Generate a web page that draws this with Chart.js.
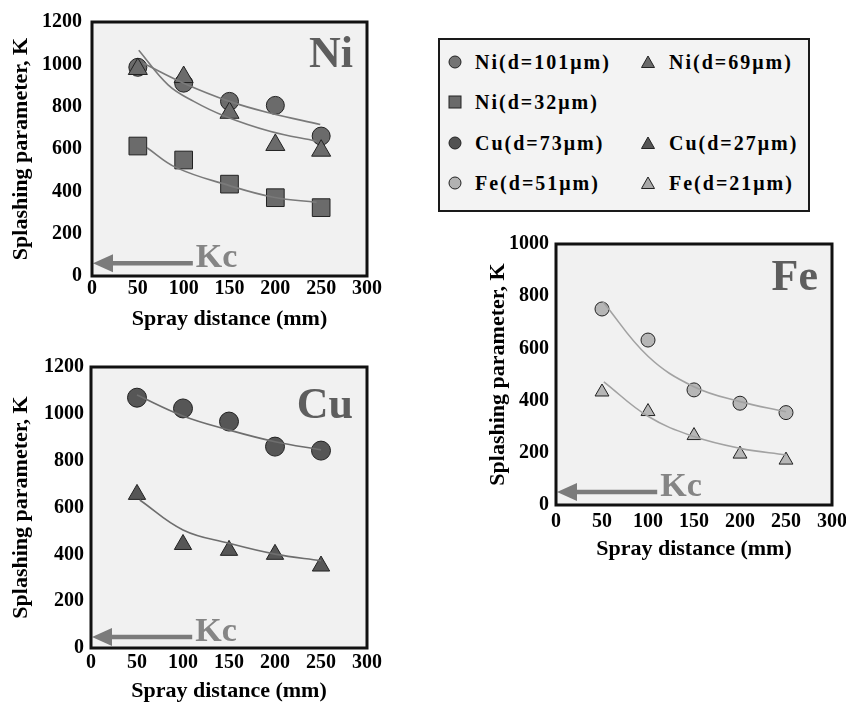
<!DOCTYPE html>
<html>
<head>
<meta charset="utf-8">
<script src="https://cdn.jsdelivr.net/npm/chart.js@4/dist/chart.umd.min.js"></script>
<style>
html,body{margin:0;padding:0;background:#fff;overflow:hidden;width:846px;height:702px;}
canvas{position:absolute;}
#legend{position:absolute;left:438px;top:38px;width:372px;height:174px;box-sizing:border-box;border:2px solid #1a1a1a;background:#f3f3f3;font-family:'Liberation Serif',serif;font-weight:bold;font-size:20px;letter-spacing:2px;color:#000;}
.item{position:absolute;height:24px;line-height:24px;white-space:nowrap;}
.item svg{position:absolute;top:5px;}
.item span{position:absolute;top:0;}
</style>
</head>
<body>
<canvas id="ni" width="392" height="336" style="left:0;top:0"></canvas>
<canvas id="cu" width="392" height="360" style="left:0;top:345px"></canvas>
<canvas id="fe" width="380" height="345" style="left:478px;top:222px"></canvas>
<div id="legend"></div>
<script>
// ---- data ----
const distances = [50, 100, 150, 200, 250];           // spray distance (mm)
const niD101 = [986, 911, 825, 806, 661];
const niD69  = [978, 940, 771, 619, 592];
const niD32  = [614, 548, 434, 370, 323];
const cuD73  = [1069, 1023, 967, 860, 843];
const cuD27  = [656, 442, 417, 400, 350];
const feD51  = [751, 632, 441, 390, 354];
const feD21  = [433, 358, 266, 195, 172];

// trend curves as drawn in the figure
const niFit101X = [56, 100, 150, 194, 249];
const niFit101Y = [1005, 911, 825, 770, 716];
const niFit69X  = [51, 83, 111, 145, 194, 245];
const niFit69Y  = [1067, 903, 825, 755, 684, 637];
const niFit32X  = [60, 92, 150, 198, 245];
const niFit32Y  = [606, 512, 427, 372, 348];
const cuFit73X  = [50, 100, 150, 200, 250];
const cuFit73Y  = [1080, 991, 931, 881, 846];
const cuFit27X  = [53, 100, 150, 200, 250];
const cuFit27Y  = [632, 504, 447, 401, 373];
const feFit51X  = [51, 100, 150, 200, 250];
const feFit51Y  = [779, 570, 453, 396, 357];
const feFit21X  = [52, 100, 150, 200, 250];
const feFit21Y  = [472, 340, 262, 217, 192];

// critical splashing parameter marker (Kc arrow)
const kcLevel = [60, 47, 50];     // Ni, Cu, Fe
const kcArrowFrom = 110;

const legendLabels = ['Ni(d=101\u03bcm)', 'Ni(d=69\u03bcm)', 'Ni(d=32\u03bcm)', 'Cu(d=73\u03bcm)', 'Cu(d=27\u03bcm)', 'Fe(d=51\u03bcm)', 'Fe(d=21\u03bcm)'];
const legendShapes = ['circle', 'triangle', 'rect', 'circle', 'triangle', 'circle', 'triangle'];
const legendColors = ['#747474', '#6a6a6a', '#6a6a6a', '#525252', '#555555', '#b2b2b2', '#a8a8a8'];

// ---- helpers ----
const zip = (xs, ys) => xs.map((x, i) => ({x: x, y: ys[i]}));
const SERIF = "'Liberation Serif', 'Times New Roman', serif";

const panelDecor = {
  id: 'panelDecor',
  beforeDatasetsDraw(chart, args, o) {
    const {ctx, chartArea: a} = chart;
    ctx.save();
    ctx.fillStyle = '#f1f1f1';
    ctx.fillRect(a.left, a.top, a.width, a.height);
    const xs = chart.scales.x, ys = chart.scales.y;
    const y = ys.getPixelForValue(o.kc);
    const x1 = xs.getPixelForValue(kcArrowFrom);
    const x0 = xs.getPixelForValue(0) + 1;
    ctx.strokeStyle = '#7b7b7b';
    ctx.lineWidth = 4.5;
    ctx.beginPath(); ctx.moveTo(x1, y); ctx.lineTo(x0 + 16, y); ctx.stroke();
    ctx.fillStyle = '#7b7b7b';
    ctx.beginPath(); ctx.moveTo(x0, y); ctx.lineTo(x0 + 20, y - 9); ctx.lineTo(x0 + 20, y + 9); ctx.closePath(); ctx.fill();
    ctx.font = 'bold 34px ' + SERIF;
    ctx.fillStyle = '#858585';
    ctx.textAlign = 'left'; ctx.textBaseline = 'alphabetic';
    ctx.fillText('Kc', x1 + 3, y + 4);
    ctx.font = 'bold 44px ' + SERIF;
    ctx.fillStyle = '#5e5e5e';
    ctx.textAlign = 'right';
    ctx.fillText(o.name, a.right - 14, a.top + o.nameDy);
    ctx.restore();
  },
  afterDraw(chart) {
    const {ctx, chartArea: a} = chart;
    ctx.save();
    ctx.strokeStyle = '#111';
    ctx.lineWidth = 3;
    ctx.strokeRect(a.left, a.top, a.width, a.height);
    ctx.restore();
  }
};

function fitSet(xs, ys, color) {
  return {data: zip(xs, ys), showLine: true, pointRadius: 0, borderColor: color, borderWidth: 1.6,
          tension: 0.4, order: 0};
}
function markSet(ys, shape, r, color, order) {
  return {data: zip(distances, ys), pointStyle: shape, pointRadius: r, backgroundColor: color,
          borderColor: '#222', borderWidth: 1, showLine: false, order: order};
}

function makePanel(id, p) {
  const tickFont = {family: SERIF, size: 20, weight: 'bold'};
  const titleFont = {family: SERIF, size: 22, weight: 'bold'};
  return new Chart(document.getElementById(id), {
    type: 'scatter',
    data: {datasets: p.datasets},
    plugins: [panelDecor],
    options: {
      responsive: false, animation: false, devicePixelRatio: 1,
      layout: {padding: {top: p.padTop, right: p.padRight, bottom: 0, left: 0}},
      plugins: {legend: {display: false}, tooltip: {enabled: false},
                panelDecor: {kc: p.kc, name: p.name, nameDy: p.nameDy}},
      scales: {
        x: {type: 'linear', min: 0, max: 300,
            ticks: {stepSize: 50, font: tickFont, color: '#000', padding: p.xPad, maxRotation: 0, autoSkip: false,
                    callback: v => String(v)},
            grid: {display: false, drawTicks: false}, border: {display: false},
            title: {display: true, text: 'Spray distance (mm)', font: titleFont, color: '#000', padding: {top: 0, bottom: p.xTitlePad}},
            afterFit(s) { s.height = p.xHeight; }},
        y: {type: 'linear', min: 0, max: p.yMax,
            ticks: {stepSize: 200, font: tickFont, color: '#000', padding: p.yPad, callback: v => String(v)},
            grid: {display: false, drawTicks: false}, border: {display: false},
            title: {display: true, text: 'Splashing parameter, K', font: titleFont, color: '#000', padding: {top: p.yTitlePad, bottom: 0}},
            afterFit(s) { s.width = p.yWidth; }}
      }
    }
  });
}

makePanel('ni', {
  name: 'Ni', nameDy: 45, kc: kcLevel[0], yMax: 1200,
  padTop: 20, padRight: 25, xHeight: 60, yWidth: 92, xPad: 1, yPad: 10, xTitlePad: 3, yTitlePad: 8,
  datasets: [
    fitSet(niFit101X, niFit101Y, '#7a7a7a'),
    fitSet(niFit69X, niFit69Y, '#7a7a7a'),
    fitSet(niFit32X, niFit32Y, '#7a7a7a'),
    markSet(niD69, 'triangle', 11, '#6b6b6b', 1),
    markSet(niD32, 'rect', 12.5, '#6b6b6b', 1),
    markSet(niD101, 'circle', 9, '#6b6b6b', 2)
  ]
});

makePanel('cu', {
  name: 'Cu', nameDy: 51, kc: kcLevel[1], yMax: 1200,
  padTop: 22, padRight: 25, xHeight: 57, yWidth: 91, xPad: 3, yPad: 7, xTitlePad: 0, yTitlePad: 8,
  datasets: [
    fitSet(cuFit73X, cuFit73Y, '#6e6e6e'),
    fitSet(cuFit27X, cuFit27Y, '#6e6e6e'),
    markSet(cuD27, 'triangle', 10, '#565656', 1),
    markSet(cuD73, 'circle', 9.5, '#565656', 1)
  ]
});

makePanel('fe', {
  name: 'Fe', nameDy: 46, kc: kcLevel[2], yMax: 1000,
  padTop: 22, padRight: 26, xHeight: 62, yWidth: 78, xPad: 5, yPad: 7, xTitlePad: 4, yTitlePad: 7,
  datasets: [
    fitSet(feFit51X, feFit51Y, '#a2a2a2'),
    fitSet(feFit21X, feFit21Y, '#a2a2a2'),
    markSet(feD21, 'triangle', 8, '#b6b6b6', 1),
    markSet(feD51, 'circle', 7, '#b6b6b6', 1)
  ]
});

// ---- shared legend box ----
const legendPos = [[0, 0], [0, 1], [1, 0], [2, 0], [2, 1], [3, 0], [3, 1]];
const rowY = [22, 62, 103, 143];
const colMarkX = [15, 208];
const colTextX = [35, 229];
function markerSvg(shape, color) {
  let inner;
  if (shape === 'circle') inner = '<circle cx="7" cy="7" r="6" fill="' + color + '" stroke="#222" stroke-width="1"/>';
  else if (shape === 'rect') inner = '<rect x="1" y="1" width="12" height="12" fill="' + color + '" stroke="#222" stroke-width="1"/>';
  else inner = '<polygon points="7,1 13.5,12.5 0.5,12.5" fill="' + color + '" stroke="#222" stroke-width="1"/>';
  return '<svg width="14" height="14" viewBox="0 0 14 14">' + inner + '</svg>';
}
const legendEl = document.getElementById('legend');
legendLabels.forEach((lab, i) => {
  const [r, c] = legendPos[i];
  const d = document.createElement('div');
  d.className = 'item';
  d.style.left = '0px';
  d.style.top = (rowY[r] - 12) + 'px';
  d.innerHTML = markerSvg(legendShapes[i], legendColors[i]).replace('<svg', '<svg style="left:' + (colMarkX[c] - 7) + 'px"') +
                '<span style="left:' + colTextX[c] + 'px"></span>';
  d.querySelector('span').textContent = lab;
  legendEl.appendChild(d);
});
</script>
</body>
</html>
